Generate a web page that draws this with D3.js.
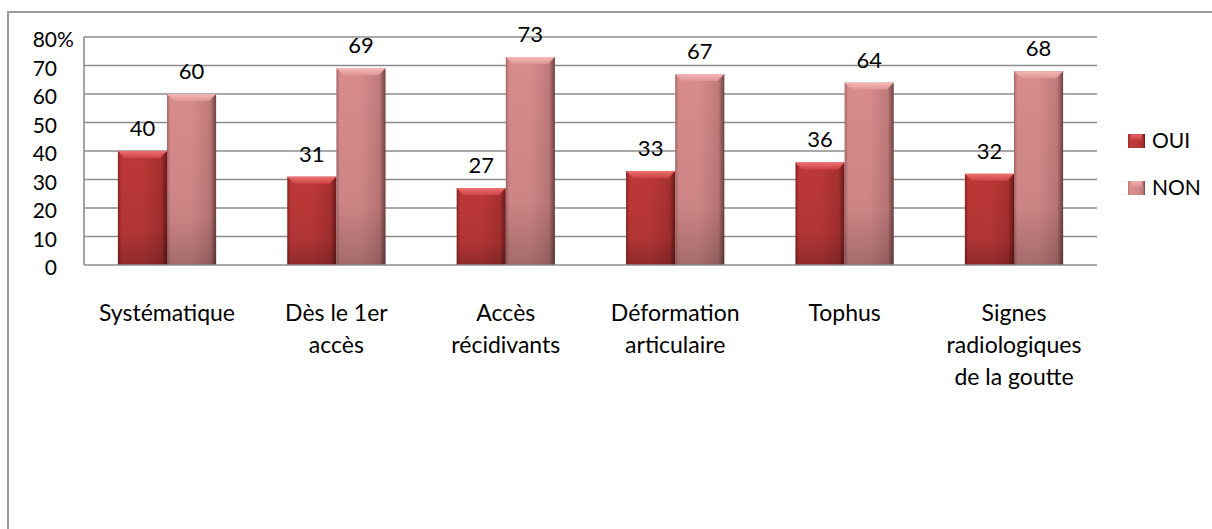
<!DOCTYPE html>
<html><head><meta charset="utf-8">
<script src="https://cdn.jsdelivr.net/npm/d3@7"></script>
<style>
html,body{margin:0;padding:0;background:#fff;}
svg{display:block;font-family:Lato,"Open Sans",sans-serif;}
</style></head>
<body>
<svg id="c" width="1212" height="529"></svg>
<script>
const categories = [
  ["Systématique"],
  ["Dès le 1er", "accès"],
  ["Accès", "récidivants"],
  ["Déformation", "articulaire"],
  ["Tophus"],
  ["Signes", "radiologiques", "de la goutte"]
];
const seriesNames = ["OUI", "NON"];
const oui = [40, 31, 27, 33, 36, 32];
const non = [60, 69, 73, 67, 64, 68];
const yTicks = [0, 10, 20, 30, 40, 50, 60, 70, 80];

const svg = d3.select("#c");
const M = {left: 84, right: 1097, top: 37, bottom: 265};

// outer frame (left and top edges visible)
svg.append("path").attr("d", `M8,529 L8,12 L1212,12`).attr("fill","none")
  .attr("stroke","#9b9b9b").attr("stroke-width",2);

const catKeys = categories.map(c => c.join(" "));
const x0 = d3.scaleBand().domain(catKeys).range([M.left, M.right]).paddingInner(0.42).paddingOuter(0.2);
const x1 = d3.scaleBand().domain(seriesNames).range([0, x0.bandwidth()]);
const y = d3.scaleLinear().domain([0, 80]).range([M.bottom, M.top]);

const defs = svg.append("defs");
const pal = {
  OUI: {edgeL:"#8a2222", main:"#bd3838", main2:"#a83030", edgeR:"#6a1818", capT:"#f07070", capB:"#cc4444"},
  NON: {edgeL:"#a86868", main:"#d88c8c", main2:"#c07a7a", edgeR:"#704242", capT:"#f6b8b8", capB:"#de9494"}
};
seriesNames.forEach(s => {
  const p = pal[s];
  const gh = defs.append("linearGradient").attr("id","h"+s).attr("x1",0).attr("x2",1).attr("y1",0).attr("y2",0);
  [[0,p.edgeL],[0.07,p.main],[0.5,p.main],[0.88,p.main2],[1,p.edgeR]].forEach(([o,c]) =>
    gh.append("stop").attr("offset",o).attr("stop-color",c));
  const gv = defs.append("linearGradient").attr("id","v"+s).attr("x1",0).attr("x2",0).attr("y1",0).attr("y2",1);
  gv.append("stop").attr("offset",0).attr("stop-color","#000").attr("stop-opacity",0);
  gv.append("stop").attr("offset",0.7).attr("stop-color","#000").attr("stop-opacity",0.06);
  gv.append("stop").attr("offset",1).attr("stop-color","#000").attr("stop-opacity",0.24);
  const gc = defs.append("linearGradient").attr("id","c"+s).attr("x1",0).attr("x2",0).attr("y1",0).attr("y2",1);
  gc.append("stop").attr("offset",0).attr("stop-color",p.capT);
  gc.append("stop").attr("offset",1).attr("stop-color",p.capB);
});

// gridlines
svg.append("g").selectAll("line").data(yTicks.filter(d => d > 0)).join("line")
  .attr("x1", M.left).attr("x2", M.right)
  .attr("y1", d => y(d)).attr("y2", d => y(d))
  .attr("stroke","#8c8c8c").attr("stroke-width",1.6);

// y tick labels
const yl = svg.append("g").attr("font-size",21).attr("fill","#000");
yl.selectAll("text").data(yTicks).join("text")
  .attr("x", 57).attr("y", d => y(d) + 10).attr("text-anchor","end").text(d => d);
yl.append("text").attr("x",57).attr("y", y(80) + 10).text("%");

// bars
const data = catKeys.map((k, i) => ({k, vals: [{s:"OUI", v:oui[i]}, {s:"NON", v:non[i]}]}));
const groups = svg.append("g").selectAll("g").data(data).join("g")
  .attr("transform", d => `translate(${x0(d.k)},0)`);
const bars = groups.selectAll("g").data(d => d.vals).join("g");
bars.append("rect")
  .attr("x", d => x1(d.s)).attr("width", x1.bandwidth())
  .attr("y", d => y(d.v)).attr("height", d => y(0) - y(d.v))
  .attr("fill", d => `url(#h${d.s})`);
bars.append("rect")
  .attr("x", d => x1(d.s)).attr("width", x1.bandwidth())
  .attr("y", d => y(d.v)).attr("height", d => y(0) - y(d.v))
  .attr("fill", d => `url(#v${d.s})`);
bars.append("path")
  .attr("d", d => {
    const xa = x1(d.s), w = x1.bandwidth(), t = y(d.v), b = 7;
    return `M${xa},${t} L${xa+w},${t} L${xa+w-b},${t+b} L${xa+b},${t+b} Z`;
  })
  .attr("fill", d => `url(#c${d.s})`);
bars.append("text")
  .attr("x", d => x1(d.s) + x1.bandwidth()/2)
  .attr("y", d => y(d.v) - 15)
  .attr("text-anchor","middle").attr("font-size",22).attr("fill","#000")
  .text(d => d.v);

// axes lines
svg.append("line").attr("x1",M.left).attr("x2",M.left).attr("y1",M.top).attr("y2",M.bottom)
  .attr("stroke","#8c8c8c").attr("stroke-width",1.6);
svg.append("line").attr("x1",M.left).attr("x2",M.right).attr("y1",M.bottom).attr("y2",M.bottom)
  .attr("stroke","#8c8c8c").attr("stroke-width",1.6);

// category labels
const cl = svg.append("g").attr("font-size",23).attr("fill","#000").attr("text-anchor","middle");
categories.forEach((lines, i) => {
  const cx = x0(catKeys[i]) + x0.bandwidth()/2;
  const t = cl.append("text").attr("x", cx).attr("y", 321);
  lines.forEach((ln, j) => t.append("tspan").attr("x", cx).attr("y", 321 + j*32).text(ln));
});

// legend
const lg = svg.append("g");
seriesNames.forEach((s, i) => {
  const yy = 141 + i*47;
  lg.append("rect").attr("x",1128).attr("y",yy-7).attr("width",17).attr("height",14)
    .attr("fill",`url(#h${s})`);
  lg.append("rect").attr("x",1131).attr("y",yy-7).attr("width",11).attr("height",6)
    .attr("fill",`url(#c${s})`).attr("opacity",0.8);
  lg.append("text").attr("x",1152).attr("y",yy+7).attr("font-size",21).text(s);
});
</script>
</body></html>
